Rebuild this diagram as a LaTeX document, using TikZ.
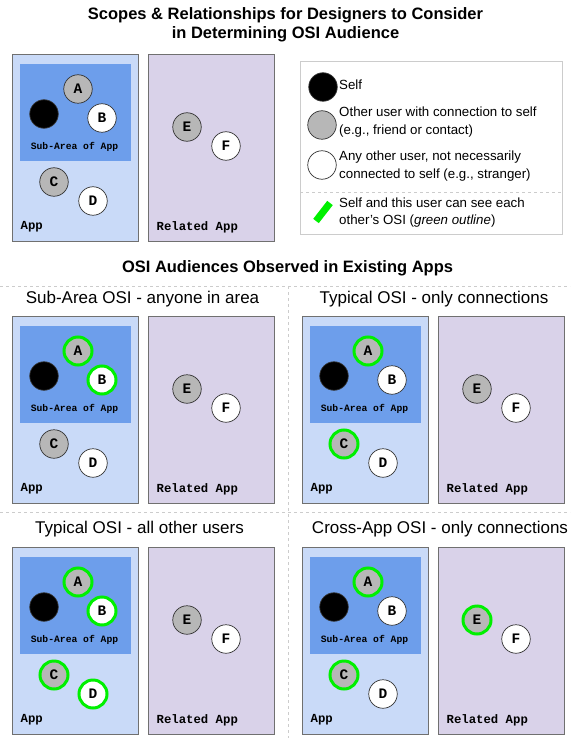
\documentclass[tikz,border=0pt]{standalone}
\usepackage{fontspec}
\setmainfont{Liberation Sans}
\setmonofont{Liberation Mono}
\usetikzlibrary{positioning}

\definecolor{appblue}{HTML}{C9DAF8}
\definecolor{subblue}{HTML}{6D9EEB}
\definecolor{relpurple}{HTML}{D9D2E9}
\definecolor{friendgray}{HTML}{B7B7B7}
\definecolor{boxgray}{HTML}{707070}
\definecolor{seengreen}{HTML}{00F000}
\definecolor{sepgray}{HTML}{CCCCCC}

% one panel: App box with sub-area, Related App box beside it
% #1,#2 = top left corner, #3 = name prefix, #4 = outline styles
\newcommand{\osipanel}[4]{%
    \begin{scope}[shift={(#1,#2)}, #4]
        \node[appbox, fill=appblue] (#3app) at (0,0) {};
        \node[appbox, fill=relpurple] (#3rel) at (136,0) {};
        \node[subarea] (#3sub) at (8,10) {};
        \node[sublabel] (#3sublbl) at (62.5,93) {Sub-Area of App};
        \node[boxlabel] (#3applbl) at (8.5,173) {App};
        \node[boxlabel] (#3rellbl) at (144.5,173) {Related App};
        % users
        \node[self] (#3self) at (32,60) {};
        \node[friend, hlA] (#3A) at (66,35) {A};
        \node[other, hlB] (#3B) at (90,64) {B};
        \node[friend, hlC] (#3C) at (42,128) {C};
        \node[other, hlD] (#3D) at (81,147) {D};
        \node[friend, hlE] (#3E) at (175,73) {E};
        \node[other, hlF] (#3F) at (214,92) {F};
    \end{scope}}

\begin{document}
\begin{tikzpicture}[
        x=1pt, y=-1pt,
        every node/.style={align=center},
        appbox/.style={draw=boxgray, line width=0.8pt, anchor=north west,
            minimum width=126pt, minimum height=187pt, inner sep=0pt},
        subarea/.style={fill=subblue, anchor=north west,
            minimum width=111pt, minimum height=97pt, inner sep=0pt},
        sublabel/.style={font=\ttfamily\bfseries\fontsize{9.7}{10}\selectfont},
        boxlabel/.style={anchor=west, inner sep=0pt,
            font=\ttfamily\bfseries\fontsize{12.3}{13}\selectfont},
        user/.style={circle, draw=black!80, line width=0.7pt, minimum size=28.5pt,
            inner sep=0pt, font=\ttfamily\bfseries\fontsize{14.5}{15}\selectfont},
        self/.style={user, fill=black},
        friend/.style={user, fill=friendgray},
        other/.style={user, fill=white},
        seen/.style={draw=seengreen, line width=3pt, minimum size=28pt},
        hlA/.style={}, hlB/.style={}, hlC/.style={},
        hlD/.style={}, hlE/.style={}, hlF/.style={},
        title/.style={font=\bfseries\fontsize{16.5}{19}\selectfont},
        subtitle/.style={font=\fontsize{17}{18}\selectfont},
        legendtext/.style={anchor=west, align=left, inner sep=0pt,
            font=\fontsize{13.3}{17.5}\selectfont},
        sep/.style={draw=sepgray, dashed, line width=0.8pt}
    ]

        \useasboundingbox (0,0) rectangle (570,738);

        % --- Header ---
        \node[title] (head) at (285.5,24.5) {Scopes \& Relationships for Designers to Consider\\
            in Determining OSI Audience};

        % --- Scopes ---
        \osipanel{12}{54}{s}{}

        % --- Legend ---
        \node[draw=sepgray, line width=0.8pt, anchor=north west, inner sep=0pt,
            minimum width=262pt, minimum height=173pt] (legend) at (300,61) {};
        \coordinate (legsepl) at (300,192);
        \coordinate (legsepr) at (562,192);
        \draw[sep] (legsepl) -- (legsepr);

        \node[self] (lself) at (323,87) {};
        \node[friend] (lfriend) at (322,125) {};
        \node[other] (lother) at (322,165) {};
        \node[legendtext] (tself) at (339,85) {Self};
        \node[legendtext] (tfriend) at (339,122) {Other user with connection to self\\(e.g., friend or contact)};
        \node[legendtext] (tother) at (339,166) {Any other user, not necessarily\\connected to self (e.g., stranger)};
        \coordinate (barlo) at (316,221);
        \coordinate (barhi) at (330,203);
        \draw[seengreen, line width=7pt] (barlo) -- (barhi);
        \node[legendtext] (tseen) at (339,212.5) {Self and this user can see each\\other's OSI (\textit{green outline})};

        % --- Audiences ---
        \node[title] (head2) at (287.5,268) {OSI Audiences Observed in Existing Apps};

        \coordinate (sepal) at (0,286);
        \coordinate (separ) at (570,286);
        \coordinate (sepbl) at (0,512);
        \coordinate (sepbr) at (570,512);
        \coordinate (sepvt) at (288,286);
        \coordinate (sepvb) at (288,738);
        \draw[sep] (sepal) -- (separ);
        \draw[sep] (sepbl) -- (sepbr);
        \draw[sep] (sepvt) -- (sepvb);

        \node[subtitle] (subosi) at (142.5,299) {Sub-Area OSI - anyone in area};
        \node[subtitle] (typcon) at (434,299) {Typical OSI - only connections};
        \node[subtitle] (typall) at (139.5,529) {Typical OSI - all other users};
        \node[subtitle] (crosscon) at (440,529) {Cross-App OSI - only connections};

        \osipanel{12}{316}{a}{hlA/.style=seen, hlB/.style=seen}
        \osipanel{302}{316}{b}{hlA/.style=seen, hlC/.style=seen}
        \osipanel{12}{547}{c}{hlA/.style=seen, hlB/.style=seen, hlC/.style=seen, hlD/.style=seen}
        \osipanel{302}{547}{d}{hlA/.style=seen, hlC/.style=seen, hlE/.style=seen}

    \end{tikzpicture}
\end{document}
